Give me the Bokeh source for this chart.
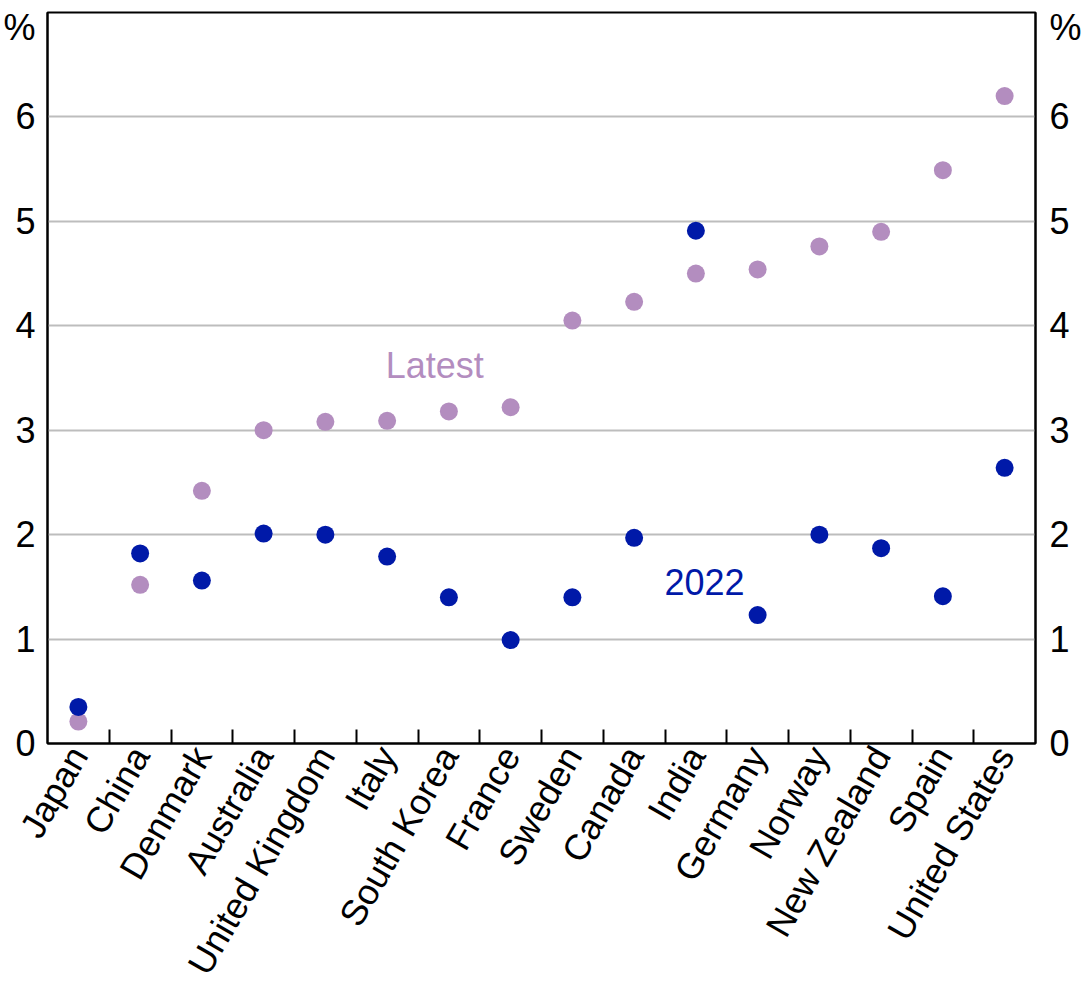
import math
from bokeh.plotting import figure
from bokeh.models import Range1d, LinearAxis, FixedTicker, Label
from bokeh.embed import file_html
from bokeh.resources import INLINE

countries = ["Japan", "China", "Denmark", "Australia", "United Kingdom", "Italy",
             "South Korea", "France", "Sweden", "Canada", "India", "Germany",
             "Norway", "New Zealand", "Spain", "United States"]
val_2022 = [0.35, 1.82, 1.56, 2.01, 2.00, 1.79, 1.40, 0.99, 1.40, 1.97, 4.91, 1.23,
            2.00, 1.87, 1.41, 2.64]
val_latest = [0.21, 1.52, 2.42, 3.00, 3.08, 3.09, 3.18, 3.22, 4.05, 4.23, 4.50, 4.54,
              4.76, 4.90, 5.49, 6.20]
y_ticks = [0, 1, 2, 3, 4, 5, 6]
unit_label = "%"
unit_pos = 6.857

FONT = "Liberation Sans"
FS = "36px"
C_LATEST = "#B38DBF"
C_2022 = "#0019A8"

xs = [i + 0.5 for i in range(len(countries))]
boundaries = [i for i in range(1, len(countries))]

p = figure(width=1084, height=994, x_range=Range1d(0, len(countries)), y_range=Range1d(0, 7),
           output_backend="svg", toolbar_location=None,
           min_border_left=47, min_border_right=40, min_border_top=12, min_border_bottom=249)

p.scatter(xs, val_latest, size=18, color=C_LATEST, line_color=None)
p.scatter(xs, val_2022, size=18, color=C_2022, line_color=None)

# x axis
xa = p.xaxis[0]
xa.ticker = FixedTicker(ticks=xs, minor_ticks=boundaries)
xa.major_label_overrides = {x: c for x, c in zip(xs, countries)}
xa.major_tick_line_color = None
xa.minor_tick_in = 14
xa.minor_tick_out = 0
xa.minor_tick_line_color = "black"
xa.minor_tick_line_width = 2
xa.axis_line_width = 2
xa.axis_line_color = "black"
xa.major_label_orientation = math.radians(60)
xa.major_label_text_font = FONT
xa.major_label_text_font_size = FS
xa.major_label_text_color = "black"
xa.major_label_standoff = 0

# y axes
ya = p.yaxis[0]
ra = LinearAxis()
p.add_layout(ra, "right")
for ax, so in ((ya, 6), (ra, 8)):
    ax.ticker = FixedTicker(ticks=y_ticks + [unit_pos])
    ax.major_label_overrides = {unit_pos: unit_label}
    ax.major_tick_line_color = None
    ax.minor_tick_line_color = None
    ax.axis_line_width = 2
    ax.axis_line_color = "black"
    ax.major_label_text_font = FONT
    ax.major_label_text_font_size = FS
    ax.major_label_text_color = "black"
    ax.major_label_standoff = so

p.xgrid.grid_line_color = None
p.ygrid.ticker = FixedTicker(ticks=y_ticks[1:])
p.ygrid.grid_line_color = "#BDBDBD"
p.ygrid.grid_line_width = 2

p.outline_line_color = "black"
p.outline_line_width = 2
p.outline_line_alpha = 1

p.add_layout(Label(x=6.27, y=3.62, text="Latest", text_align="center", text_baseline="middle",
                   text_font=FONT, text_font_size=FS, text_color=C_LATEST))
p.add_layout(Label(x=10.64, y=1.55, text="2022", text_align="center", text_baseline="middle",
                   text_font=FONT, text_font_size=FS, text_color=C_2022))

p.background_fill_color = "white"
p.border_fill_color = "white"

open("out.html", "w").write(file_html(p, INLINE))
